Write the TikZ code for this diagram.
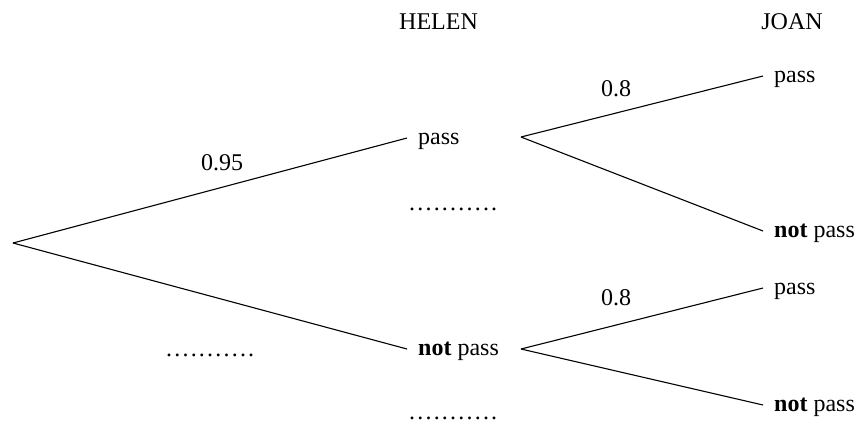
\documentclass[tikz,border=0pt]{standalone}
\usepackage{fontspec}
\setmainfont{Liberation Serif}
\begin{document}
\begin{tikzpicture}[x=1pt,y=-1pt,
  every node/.style={font=\fontsize{24}{28}\selectfont},
  outcome/.style={anchor=west,inner xsep=11pt,inner ysep=0pt,text height=15pt,text depth=3pt},
  heading/.style={anchor=base},
  prob/.style={anchor=center},
  blank/.style={anchor=base west,inner sep=0pt,text depth=0pt},
  branch/.style={line width=1.1pt}]
\useasboundingbox (0,0) rectangle (859,424);
\newcommand{\dotrow}{.\kern2.2pt.\kern2.2pt.\kern2.2pt.\kern2.2pt.\kern2.2pt.\kern2.2pt.\kern2.2pt.\kern2.2pt.\kern2.2pt.\kern2.2pt.}

% column headings
\node[heading] (helen) at (438.5,29) {HELEN};
\node[heading] (joan) at (792,29) {JOAN};

% branch points
\coordinate (root) at (13,243);
\coordinate (hp) at (521,137);
\coordinate (hn) at (521,349);

% Helen's outcomes
\node[outcome] (hpass) at (407,138) {pass};
\node[outcome] (hnot) at (407,349) {\textbf{not} pass};

% Joan's outcomes
\node[outcome] (jpp) at (763,76) {pass};
\node[outcome] (jpn) at (763,231) {\textbf{not} pass};
\node[outcome] (jnp) at (763,288) {pass};
\node[outcome] (jnn) at (763,405) {\textbf{not} pass};

% branches
\draw[branch] (root) -- (hpass.west);
\draw[branch] (root) -- (hnot.west);
\draw[branch] (hp) -- (jpp.west);
\draw[branch] (hp) -- (jpn.west);
\draw[branch] (hn) -- (jnp.west);
\draw[branch] (hn) -- (jnn.west);

% probabilities
\node[prob] (p1) at (222,163) {0.95};
\node[prob] (p2) at (616,89) {0.8};
\node[prob] (p3) at (616,298) {0.8};

% gaps to fill in
\node[blank] (b1) at (166,356) {\dotrow};
\node[blank] (b2) at (409,210) {\dotrow};
\node[blank] (b3) at (409,419) {\dotrow};
\end{tikzpicture}
\end{document}
